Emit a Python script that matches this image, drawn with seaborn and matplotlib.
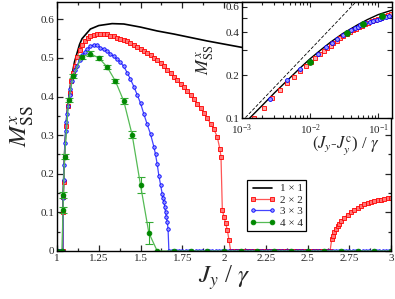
import numpy as np
import matplotlib
matplotlib.use('Agg')
import matplotlib.pyplot as plt
import seaborn as sns
from matplotlib.ticker import MultipleLocator, FixedLocator, FixedFormatter, NullFormatter, LogLocator

sns.set_style('ticks')
plt.rcParams['font.family'] = ['Liberation Serif', 'DejaVu Serif']
plt.rcParams['mathtext.fontset'] = 'stix'

# ---- main panel data: M_SS^x vs J_y/gamma ----
jy_1 = [1.0, 1.034, 1.0353, 1.037, 1.04, 1.045, 1.055, 1.065, 1.085, 1.105, 1.135,
        1.15, 1.2, 1.25, 1.33, 1.4, 1.5, 1.6, 1.7, 1.8, 1.9, 2.0, 2.1, 2.3, 2.5, 2.75, 3.0]
m_1 = [0, 0, 0.1, 0.145, 0.185, 0.25, 0.33, 0.38, 0.445, 0.49, 0.535,
       0.55, 0.575, 0.584, 0.589, 0.588, 0.58, 0.57, 0.562, 0.553, 0.544, 0.536, 0.528,
       0.512, 0.496, 0.476, 0.456]

# 2x2: rise and arc, zero gap, re-entrant branch
jy_2_arc = [1.0, 1.01, 1.02, 1.03, 1.035, 1.0365, 1.038, 1.04, 1.045, 1.055,
            1.065, 1.075, 1.085, 1.095, 1.105, 1.12, 1.135, 1.15, 1.165, 1.185,
            1.2, 1.22, 1.24, 1.26, 1.28, 1.30, 1.32, 1.34, 1.36, 1.38,
            1.40, 1.42, 1.44, 1.46, 1.48, 1.50, 1.52, 1.54, 1.56, 1.58,
            1.60, 1.62, 1.64, 1.66, 1.68, 1.70, 1.72, 1.74, 1.76, 1.78,
            1.80, 1.82, 1.84, 1.86, 1.88, 1.90, 1.92, 1.94, 1.96, 1.975,
            1.982, 1.99, 2.0, 2.01, 2.02, 2.03, 2.04]
m_2_arc = [0, 0, 0, 0, 0, 0.1, 0.14, 0.18, 0.245, 0.325,
           0.375, 0.41, 0.44, 0.462, 0.48, 0.502, 0.52, 0.533, 0.543, 0.553,
           0.556, 0.56, 0.562, 0.563, 0.562, 0.561, 0.558, 0.556, 0.553, 0.55,
           0.547, 0.543, 0.538, 0.534, 0.529, 0.524, 0.519, 0.513, 0.507, 0.501,
           0.495, 0.487, 0.479, 0.47, 0.461, 0.452, 0.443, 0.433, 0.424, 0.414,
           0.404, 0.393, 0.382, 0.37, 0.357, 0.344, 0.33, 0.315, 0.295, 0.265,
           0.244, 0.106, 0.089, 0.072, 0.054, 0.028, 0]
jy_2_gap = [2.06, 2.08, 2.10, 2.12, 2.14, 2.16, 2.18, 2.20, 2.22, 2.24,
            2.26, 2.28, 2.30, 2.32, 2.34, 2.36, 2.38, 2.40, 2.42, 2.44,
            2.46, 2.48, 2.50, 2.52, 2.54, 2.56, 2.58, 2.60, 2.62, 2.635]
m_2_gap = [0, 0, 0, 0, 0, 0, 0, 0, 0, 0,
           0, 0, 0, 0, 0, 0, 0, 0, 0, 0,
           0, 0, 0, 0, 0, 0, 0, 0, 0, 0]
jy_2_re = [2.645, 2.65, 2.66, 2.67, 2.68, 2.69, 2.70, 2.72, 2.74, 2.76, 2.78,
           2.80, 2.82, 2.84, 2.86, 2.88, 2.90, 2.92, 2.94, 2.96, 2.98, 3.0]
m_2_re = [0.03, 0.04, 0.05, 0.058, 0.065, 0.071, 0.077, 0.086, 0.094, 0.101, 0.107,
          0.112, 0.117, 0.121, 0.124, 0.127, 0.129, 0.131, 0.133, 0.135, 0.136, 0.138]

# 3x3
jy_3_arc = [1.0, 1.01, 1.02, 1.03, 1.035, 1.0376, 1.0396, 1.0421, 1.045, 1.048,
            1.052, 1.056, 1.06, 1.065, 1.07, 1.075, 1.08, 1.09, 1.1, 1.11,
            1.12, 1.135, 1.15, 1.165, 1.18, 1.2, 1.22, 1.24, 1.26, 1.28,
            1.30, 1.32, 1.34, 1.36, 1.38, 1.40, 1.42, 1.44, 1.46, 1.48,
            1.50, 1.52, 1.54, 1.56, 1.58, 1.59, 1.60, 1.61, 1.62, 1.63,
            1.635, 1.64, 1.645, 1.65, 1.655, 1.66, 1.665, 1.67]
m_3_arc = [0, 0, 0, 0, 0, 0.136, 0.184, 0.222, 0.245, 0.28,
           0.31, 0.335, 0.355, 0.375, 0.39, 0.405, 0.42, 0.44, 0.455, 0.47,
           0.48, 0.495, 0.507, 0.515, 0.522, 0.53, 0.534, 0.533, 0.527, 0.522,
           0.517, 0.511, 0.504, 0.497, 0.489, 0.478, 0.462, 0.445, 0.426, 0.405,
           0.383, 0.355, 0.328, 0.303, 0.27, 0.25, 0.225, 0.195, 0.172, 0.148,
           0.138, 0.128, 0.115, 0.1, 0.088, 0.075, 0.058, 0]
jy_3_tail = [1.69, 1.71, 1.73, 1.75, 1.77, 1.79, 1.81, 1.83, 1.85, 1.87,
             1.89, 1.91, 1.93, 1.95, 1.97, 1.99, 2.01, 2.03, 2.05, 2.07,
             2.09, 2.11, 2.13, 2.15, 2.17, 2.19, 2.21, 2.23, 2.25, 2.27,
             2.29, 2.31, 2.33, 2.35, 2.37, 2.39, 2.41, 2.43, 2.45, 2.47,
             2.49, 2.51, 2.53, 2.55, 2.57, 2.59, 2.61, 2.63, 2.65, 2.67,
             2.69, 2.71, 2.73, 2.75, 2.77, 2.79, 2.81, 2.83, 2.85, 2.87,
             2.89, 2.91, 2.93, 2.95, 2.97, 2.99]
m_3_tail = [0, 0, 0, 0, 0, 0, 0, 0, 0, 0,
            0, 0, 0, 0, 0, 0, 0, 0, 0, 0,
            0, 0, 0, 0, 0, 0, 0, 0, 0, 0,
            0, 0, 0, 0, 0, 0, 0, 0, 0, 0,
            0, 0, 0, 0, 0, 0, 0, 0, 0, 0,
            0, 0, 0, 0, 0, 0, 0, 0, 0, 0,
            0, 0, 0, 0, 0, 0]

# 4x4 with error bars
jy_4 = [1.0, 1.03, 1.0365, 1.038, 1.045, 1.07, 1.096, 1.148, 1.2, 1.25,
        1.3, 1.35, 1.4, 1.45, 1.5, 1.55, 1.6, 1.7, 1.8, 1.9,
        2.0, 2.1, 2.2, 2.3, 2.4, 2.5, 2.6, 2.7, 2.8, 2.9, 3.0]
m_4 = [0, 0, 0.106, 0.145, 0.244, 0.391, 0.453, 0.503, 0.511, 0.50,
       0.477, 0.44, 0.388, 0.301, 0.171, 0.047, 0, 0, 0, 0,
       0, 0, 0, 0, 0, 0, 0, 0, 0, 0, 0]
err_4 = [0, 0, 0.008, 0.008, 0.006, 0.006, 0.006, 0.006, 0.006, 0.006,
         0.006, 0.006, 0.008, 0.009, 0.021, 0.028, 0, 0, 0, 0,
         0, 0, 0, 0, 0, 0, 0, 0, 0, 0, 0]

# ---- inset data: M_SS^x vs (J_y - J_y^c)/gamma ----
dx_1 = [1.3e-3, 2e-3, 3e-3, 5e-3, 7e-3, 0.01, 0.015, 0.02, 0.03, 0.05, 0.07, 0.1, 0.16]
dm_1 = [0.1, 0.123, 0.15, 0.19, 0.222, 0.26, 0.305, 0.34, 0.39, 0.45, 0.49, 0.53, 0.57]

dx_2 = [1.5e-3, 2.1e-3, 2.8e-3, 3.6e-3, 4.6e-3, 5.8e-3, 7.1e-3, 8.6e-3, 0.0102, 0.012,
        0.014, 0.016, 0.018, 0.020, 0.022, 0.025, 0.028, 0.031, 0.035, 0.039,
        0.043, 0.047, 0.052, 0.058, 0.065, 0.072, 0.08, 0.09, 0.1, 0.11,
        0.125, 0.14, 0.155]
dm_2 = [0.1, 0.118, 0.137, 0.157, 0.176, 0.194, 0.212, 0.23, 0.247, 0.265,
        0.282, 0.297, 0.31, 0.322, 0.333, 0.348, 0.362, 0.374, 0.388, 0.4,
        0.411, 0.421, 0.432, 0.443, 0.455, 0.465, 0.475, 0.486, 0.497, 0.506,
        0.518, 0.528, 0.537]

dx_3 = [2.6e-3, 4.6e-3, 7.1e-3, 0.01, 0.013, 0.017, 0.021, 0.025, 0.03, 0.035,
        0.04, 0.045, 0.05, 0.055, 0.06, 0.065, 0.075, 0.085, 0.095, 0.105,
        0.115, 0.13, 0.145]
dm_3 = [0.136, 0.184, 0.222, 0.252, 0.282, 0.312, 0.338, 0.358, 0.38, 0.398,
        0.413, 0.426, 0.436, 0.445, 0.453, 0.46, 0.472, 0.482, 0.49, 0.497,
        0.503, 0.512, 0.52]

dx_4 = [0.01, 0.035, 0.061, 0.113]
dm_4 = [0.248, 0.395, 0.459, 0.517]

guide_x = [1e-3, 0.05]
guide_y = [0.095, 0.67]

labels = ['1 \u00d7 1', '2 \u00d7 2', '3 \u00d7 3', '4 \u00d7 4']

jy_2 = jy_2_arc + jy_2_gap + jy_2_re
m_2 = m_2_arc + m_2_gap + m_2_re
jy_3 = jy_3_arc + jy_3_tail
m_3 = m_3_arc + m_3_tail

red_kw = dict(color='#ff5555', lw=0.9, marker='s', ms=2.5, mfc='#ff7777', mec='#ff0000', mew=0.6)
blue_kw = dict(color='#4444ff', lw=0.9, marker='o', ms=2.5, mfc='#9999ff', mec='#0000ff', mew=0.6)
green_kw = dict(color='#55bb55', lw=0.9, marker='o', ms=3.4, mfc='#008800', mec='#008800', mew=0.6)

fig = plt.figure(figsize=(3.95, 2.99), dpi=100)
ax = fig.add_axes([57 / 395, 48 / 299, 334 / 395, 249 / 299])

sns.lineplot(x=jy_1, y=m_1, ax=ax, color='black', lw=1.2, estimator=None, sort=False, label=labels[0])
sns.lineplot(x=jy_2, y=m_2, ax=ax, estimator=None, sort=False, label=labels[1], **red_kw)
sns.lineplot(x=jy_3, y=m_3, ax=ax, estimator=None, sort=False, label=labels[2], **blue_kw)
ax.errorbar(jy_4, m_4, yerr=err_4, fmt='none', ecolor='#33aa33', elinewidth=0.8, capsize=3, capthick=0.8)
sns.lineplot(x=jy_4, y=m_4, ax=ax, estimator=None, sort=False, label=labels[3], **green_kw)

ax.set_xlim(1, 3)
ax.set_ylim(0, 0.645)
ax.xaxis.set_major_locator(MultipleLocator(0.25))
ax.xaxis.set_minor_locator(MultipleLocator(0.125))
ax.yaxis.set_major_locator(MultipleLocator(0.1))
ax.yaxis.set_minor_locator(MultipleLocator(0.05))
ax.xaxis.set_major_formatter(plt.FuncFormatter(lambda v, p: '%g' % round(v, 3)))
ax.yaxis.set_major_formatter(plt.FuncFormatter(lambda v, p: '%g' % round(v, 2)))
ax.tick_params(which='both', direction='in', top=True, right=True, labelsize=8, pad=2, width=0.9)
ax.tick_params(which='major', length=4)
ax.tick_params(which='minor', length=2.5)
for s in ax.spines.values():
    s.set_linewidth(1.0)
    s.set_color('black')
ax.set_xlabel(r'$J_y$ / $\gamma$', fontsize=18, labelpad=0)
ax.set_ylabel(r'$M^x_{\rm SS}$', fontsize=18, labelpad=3)

ax.legend(loc='lower left', bbox_to_anchor=(0.568, 0.08), borderaxespad=0, fontsize=8,
          numpoints=2, handlelength=2.3, handletextpad=0.4, labelspacing=0.15,
          borderpad=0.3, fancybox=False, framealpha=1, edgecolor='black')
ax.get_legend().get_frame().set_linewidth(0.9)

# ---- inset ----
ax_in = fig.add_axes([242 / 395, 181 / 299, 150 / 395, 116 / 299])
ax_in.plot(guide_x, guide_y, color='black', lw=0.6, ls=(0, (4, 2)))
sns.lineplot(x=dx_1, y=dm_1, ax=ax_in, color='black', lw=1.0, estimator=None, sort=False)
sns.lineplot(x=dx_2, y=dm_2, ax=ax_in, estimator=None, sort=False, **dict(red_kw, lw=0, mfc='#ffaaaa'))
sns.lineplot(x=dx_3, y=dm_3, ax=ax_in, estimator=None, sort=False, **dict(blue_kw, lw=0, ms=2.8))
sns.lineplot(x=dx_4, y=dm_4, ax=ax_in, estimator=None, sort=False, **dict(green_kw, lw=0, ms=4.2))
ax_in.set_xscale('log')
ax_in.set_yscale('log')
ax_in.set_xlim(1e-3, 0.16)
ax_in.set_ylim(0.1, 0.65)
ax_in.yaxis.set_major_locator(FixedLocator([0.1, 0.2, 0.3, 0.4, 0.5, 0.6]))
ax_in.yaxis.set_major_formatter(FixedFormatter(['0.1', '0.2', '', '0.4', '', '0.6']))
ax_in.yaxis.set_minor_locator(FixedLocator([]))
ax_in.xaxis.set_minor_locator(LogLocator(base=10, subs=np.arange(2, 10)))
ax_in.xaxis.set_minor_formatter(NullFormatter())
ax_in.tick_params(which='both', direction='in', top=True, right=True, labelsize=8, pad=2, width=0.8)
ax_in.tick_params(axis='x', pad=3)
ax_in.tick_params(which='major', length=3.5)
ax_in.tick_params(which='minor', length=2)
for s in ax_in.spines.values():
    s.set_linewidth(1.0)
    s.set_color('black')
ax_in.set_xlabel(r'$(J_y$-$J_y^{\rm c}$) / $\gamma$', fontsize=12)
ax_in.xaxis.set_label_coords(0.69, -0.14)
ax_in.set_ylabel(r'$M^x_{\rm SS}$', fontsize=13)
ax_in.yaxis.set_label_coords(-0.17, 0.5)
if ax_in.get_legend() is not None:
    ax_in.get_legend().remove()

fig.savefig('out.png', dpi=100)
